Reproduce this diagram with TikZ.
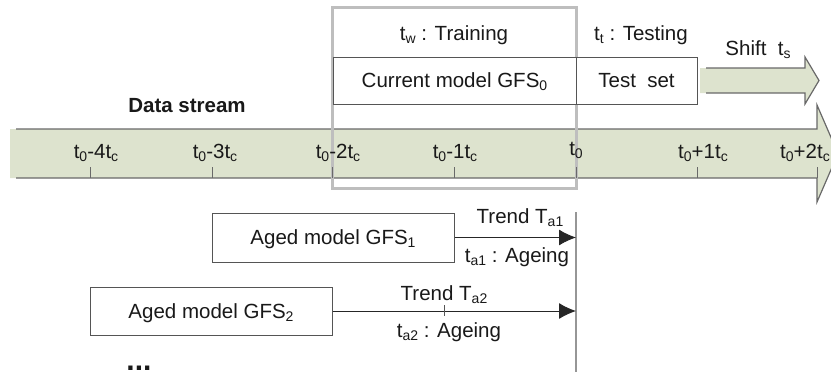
\documentclass[tikz,border=0pt]{standalone}
\usepackage{fontspec}
\setmainfont{Liberation Sans}
\usetikzlibrary{arrows.meta}
\newcommand{\ssub}[1]{\raisebox{-3pt}{\fontsize{14}{14}\selectfont #1}}
\definecolor{bandfill}{RGB}{221,227,206}
\definecolor{bandline}{RGB}{105,105,105}
\definecolor{winline}{RGB}{190,190,190}
\definecolor{boxline}{RGB}{85,85,85}
\definecolor{vline}{RGB}{150,150,150}
\definecolor{txt}{RGB}{25,25,25}
\begin{document}
\begin{tikzpicture}[x=1pt,y=-1pt,
  every node/.style={font=\fontsize{20.5}{24}\selectfont, text=txt, inner sep=0pt},
  lbl/.style={anchor=base},
  mbox/.style={draw=boxline, line width=1pt, fill=white, text height=14.7pt, text depth=0pt},
  tickmark/.style={draw=bandline, line width=1pt},
  conn/.style={draw=black!85, line width=1pt, -{Latex[length=17pt,width=16pt]}},
  bandedge/.style={draw=bandline, line width=1.2pt, line join=miter}
]
\useasboundingbox (0,0) rectangle (831,376);

% data stream band arrow
\fill[bandfill] (10,129) -- (817,129) -- (817,105) -- (838,153.5) -- (817,202) -- (817,178) -- (10,178) -- cycle;
\draw[bandedge] (16,129) -- (817,129) -- (817,105) -- (838,153.5) -- (817,202) -- (817,178) -- (16,178);

% shift arrow
\fill[bandfill] (700,68) -- (805,68) -- (805,57) -- (819,80.5) -- (805,104) -- (805,93) -- (700,93) -- cycle;
\draw[bandedge] (706,68) -- (805,68) -- (805,57) -- (819,80.5) -- (805,104) -- (805,93) -- (706,93);

% window
\node[draw=winline, line width=3pt, minimum width=244pt, minimum height=181pt] (win) at (454,97.5) {};

% ticks
\foreach \x in {90,212,332,454,576,697,817}
  \draw[tickmark] (\x,167) -- (\x,178);

% tick labels
\node[lbl] (l4) at (96,158) {t\ssub{0}-4t\ssub{c}};
\node[lbl] (l3) at (215,158) {t\ssub{0}-3t\ssub{c}};
\node[lbl] (l2) at (338,158) {t\ssub{0}-2t\ssub{c}};
\node[lbl] (l1) at (455,158) {t\ssub{0}-1t\ssub{c}};
\node[lbl] (l0) at (576,155) {t\ssub{0}};
\node[lbl] (p1) at (703,158) {t\ssub{0}+1t\ssub{c}};
\node[lbl] (p2) at (805,158) {t\ssub{0}+2t\ssub{c}};

\node[lbl, font=\fontsize{20.5}{24}\selectfont\bfseries] (ds) at (187,112) {Data stream};

% current / test boxes
\node[mbox, minimum width=243pt, minimum height=47pt] (cur) at (454.5,80.5) {Current model GFS\ssub{0}};
\node[mbox, minimum width=121pt, minimum height=47pt] (test) at (636.5,80.5) {Test\ \ set\hspace{14pt}};

\node[lbl] (tw) at (454,40) {t\ssub{w} : Training};
\node[lbl] (tt) at (641,40) {t\ssub{t} : Testing};
\node[lbl] (shift) at (758,55) {Shift\ \ t\ssub{s}};

% t0 vertical line
\coordinate (t0a) at (576,212);
\coordinate (t0b) at (576,372);
\draw[draw=vline, line width=2.2pt] (t0a) -- (t0b);

% aged models
\node[mbox, minimum width=242pt, minimum height=49pt] (aged1) at (333,237.5) {Aged model GFS\ssub{1}};
\node[mbox, minimum width=242pt, minimum height=48pt] (aged2) at (211,311) {Aged model GFS\ssub{2}};

\draw[conn] (aged1.east) -- (aged1.east -| t0b);
\draw[conn] (aged2.east) -- (aged2.east -| t0b);
\draw[draw=boxline, line width=0.8pt] (444,305) -- (444,316);

\node[lbl] (tr1) at (520,223) {Trend T\ssub{a1}};
\node[lbl] (ag1) at (517,262) {t\ssub{a1} : Ageing};
\node[lbl] (tr2) at (444,300) {Trend T\ssub{a2}};
\node[lbl] (ag2) at (449,337) {t\ssub{a2} : Ageing};

\node[lbl, font=\fontsize{30}{30}\selectfont\bfseries] (dots) at (139,370) {...};
\end{tikzpicture}
\end{document}
